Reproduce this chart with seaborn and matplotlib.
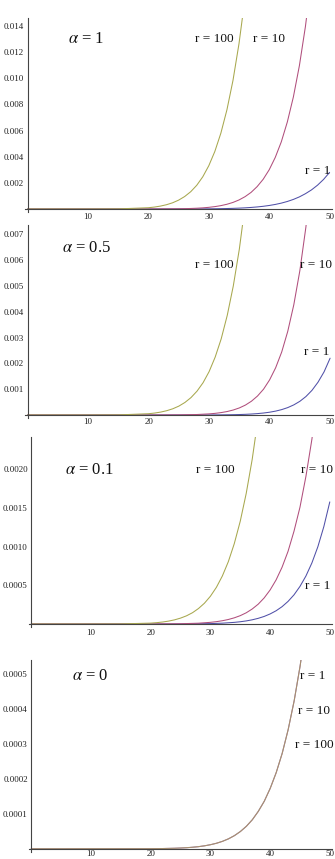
import numpy as np
import pandas as pd
import matplotlib
matplotlib.use("Agg")
import matplotlib.pyplot as plt
import seaborn as sns
from matplotlib.ticker import MultipleLocator, FixedLocator, FuncFormatter

# values, one list per curve
# alpha = 1
a1_x_r1 = [0, 20, 25, 30, 31, 32, 33, 34, 35, 36, 37, 38, 39, 40, 41, 42, 43, 44, 45, 46, 47, 48, 49, 50]
a1_y_r1 = [0, 0.0000002, 0.0000019, 0.0000131, 0.0000185, 0.0000258, 0.0000357, 0.0000488, 0.0000662,
           0.000089, 0.000119, 0.000157, 0.000206, 0.000269, 0.000348, 0.000449, 0.000575, 0.000732,
           0.000926, 0.00117, 0.00146, 0.00182, 0.00226, 0.0028]
a1_x_r10 = [0, 15, 20, 25, 26, 27, 28, 29, 30, 31, 32, 33, 34, 35, 36, 37, 38, 39, 40, 41, 42, 43, 44, 45, 46, 47]
a1_y_r10 = [0, 0.0000001, 0.0000015, 0.0000171, 0.0000263, 0.0000398, 0.0000593, 0.0000873, 0.000127,
            0.000182, 0.000258, 0.000362, 0.000502, 0.000691, 0.000942, 0.00127, 0.00171, 0.00227,
            0.00300, 0.00394, 0.00513, 0.00665, 0.00856, 0.01096, 0.01396, 0.01769]
a1_x_r100 = [0, 10, 15, 20, 21, 22, 23, 24, 25, 26, 27, 28, 29, 30, 31, 32, 33, 34, 35, 36, 37]
a1_y_r100 = [0, 0.0000002, 0.000008, 0.000097, 0.000148, 0.000223, 0.000328, 0.000474, 0.000677,
             0.000952, 0.00132, 0.00181, 0.00246, 0.00331, 0.00440, 0.00580, 0.00758, 0.00982,
             0.01264, 0.01615, 0.02050]

# alpha = 0.5
a05_x_r1 = [0, 25, 30, 32, 34, 35, 36, 37, 38, 39, 40, 41, 42, 43, 44, 45, 46, 47, 48, 49, 50]
a05_y_r1 = [0, 0.0000002, 0.0000022, 0.0000053, 0.0000121, 0.0000178, 0.0000261, 0.0000378, 0.0000541,
            0.0000769, 0.000108, 0.000151, 0.000209, 0.000287, 0.000392, 0.000530, 0.000714,
            0.000954, 0.00127, 0.00167, 0.0022]
a05_x_r10 = [0, 20, 25, 28, 30, 31, 32, 33, 34, 35, 36, 37, 38, 39, 40, 41, 42, 43, 44, 45, 46, 47]
a05_y_r10 = [0, 0.0000003, 0.0000048, 0.0000188, 0.0000431, 0.0000639, 0.0000935, 0.000135, 0.000194,
             0.000274, 0.000384, 0.000534, 0.000735, 0.00100, 0.00136, 0.00183, 0.00244, 0.00324,
             0.00427, 0.00559, 0.00728, 0.00942]
a05_x_r100 = [0, 10, 15, 20, 21, 22, 23, 24, 25, 26, 27, 28, 29, 30, 31, 32, 33, 34, 35, 36, 37]
a05_y_r100 = [0, 0.0000001, 0.000004, 0.0000495, 0.0000756, 0.000113, 0.000167, 0.000241, 0.000344,
              0.000485, 0.000673, 0.000923, 0.00125, 0.00168, 0.00224, 0.00295, 0.00386, 0.00500,
              0.00643, 0.00822, 0.01043]

# alpha = 0.1
a01_x_r1 = [0, 25, 30, 32, 34, 35, 36, 37, 38, 39, 40, 41, 42, 43, 44, 45, 46, 47, 48, 49, 50]
a01_y_r1 = [0, 0.0000007, 0.0000052, 0.0000107, 0.0000210, 0.0000291, 0.0000399, 0.0000542, 0.0000731,
            0.0000977, 0.000130, 0.000171, 0.000224, 0.000292, 0.000377, 0.000486, 0.000621,
            0.000790, 0.00100, 0.00126, 0.00158]
a01_x_r10 = [0, 20, 25, 28, 30, 31, 32, 33, 34, 35, 36, 37, 38, 39, 40, 41, 42, 43, 44, 45, 46, 47, 48]
a01_y_r10 = [0, 0.0000003, 0.0000032, 0.0000104, 0.0000214, 0.0000302, 0.0000422, 0.0000583, 0.0000798,
             0.000108, 0.000145, 0.000194, 0.000256, 0.000337, 0.000440, 0.000570, 0.000734,
             0.000939, 0.00120, 0.00151, 0.00191, 0.00239, 0.00298]
a01_x_r100 = [0, 10, 15, 20, 21, 22, 23, 24, 25, 26, 27, 28, 29, 30, 31, 32, 33, 34, 35, 36, 37, 38]
a01_y_r100 = [0, 0.00000003, 0.000001, 0.0000114, 0.0000173, 0.0000257, 0.0000375, 0.0000538, 0.0000762,
              0.000106, 0.000146, 0.000200, 0.000269, 0.000359, 0.000474, 0.000621, 0.000806,
              0.00104, 0.00133, 0.00169, 0.00213, 0.00267]

# alpha = 0: the three curves lie on top of each other
a0_x = [0, 20, 22, 24, 25, 26, 27, 28, 29, 30, 31, 32, 33, 34, 35, 36, 37, 38, 39, 40, 41, 42, 43, 44, 45, 46]
a0_y = [0, 0.00000026, 0.00000063, 0.0000014, 0.0000021, 0.0000030, 0.0000043, 0.0000060, 0.0000084,
        0.0000116, 0.0000157, 0.0000212, 0.0000283, 0.0000375, 0.0000493, 0.0000642, 0.0000830,
        0.000107, 0.000136, 0.000173, 0.000218, 0.000273, 0.000341, 0.000423, 0.000523, 0.000643]

r_names = ["r = 1", "r = 10", "r = 100"]
colors = {"r = 1": "#5050a8", "r = 10": "#b04e7c", "r = 100": "#a8a84e"}

panels = [
    {"title": r"$\alpha$ = 1",
     "curves": [(a1_x_r1, a1_y_r1), (a1_x_r10, a1_y_r10), (a1_x_r100, a1_y_r100)],
     "ymax": 0.0146, "major": 0.002, "minor": 0.0004, "fmt": "{:.3f}",
     "box": (27.6, 6.04, 209, 18), "xpad": 3, "alpha": 1.0,
     "title_xy": (9.7, 0.0130),
     "label_xy": [(48.0, 0.0029), (39.9, 0.0130), (30.9, 0.0130)]},
    {"title": r"$\alpha$ = 0.5",
     "curves": [(a05_x_r1, a05_y_r1), (a05_x_r10, a05_y_r10), (a05_x_r100, a05_y_r100)],
     "ymax": 0.00736, "major": 0.001, "minor": 0.0002, "fmt": "{:.3f}",
     "box": (27.6, 6.05, 415, 225), "xpad": 2.5, "alpha": 1.0,
     "title_xy": (9.8, 0.00647),
     "label_xy": [(47.8, 0.00244), (47.75, 0.00581), (30.9, 0.00581)]},
    {"title": r"$\alpha$ = 0.1",
     "curves": [(a01_x_r1, a01_y_r1), (a01_x_r10, a01_y_r10), (a01_x_r100, a01_y_r100)],
     "ymax": 0.00242, "major": 0.0005, "minor": 0.0001, "fmt": "{:.4f}",
     "box": (31.3, 5.97, 624, 437), "xpad": 3.5, "alpha": 1.0,
     "title_xy": (9.8, 0.00199),
     "label_xy": [(47.9, 0.000492), (47.9, 0.00199), (30.9, 0.00199)]},
    {"title": r"$\alpha$ = 0",
     "curves": [(a0_x, a0_y), (a0_x, a0_y), (a0_x, a0_y)],
     "ymax": 0.00054, "major": 0.0001, "minor": 0.00002, "fmt": "{:.4f}",
     "box": (31.25, 5.975, 848.75, 660), "xpad": 1.2, "alpha": 0.6,
     "title_xy": (9.9, 0.000494),
     "label_xy": [(47.1, 0.000494), (47.4, 0.000394), (47.4, 0.000297)]},
]

sns.set_theme(style="white")
plt.rcParams["font.family"] = ["Liberation Serif", "DejaVu Serif"]
plt.rcParams["mathtext.fontset"] = "stix"

W, H = 335, 859
fig = plt.figure(figsize=(W / 100, H / 100), dpi=100)

for p in panels:
    x0, ppu, y0, ytop = p["box"]
    ymax = p["ymax"]
    ybot = -0.015 * ymax
    left_px = x0 - 0.4 * ppu
    width_px = 50.8 * ppu
    bottom_px = y0 + 0.015 * (y0 - ytop)
    ax = fig.add_axes([left_px / W, (H - bottom_px) / H, width_px / W, (bottom_px - ytop) / H])

    frames = []
    for name, (xs, ys) in zip(r_names, p["curves"]):
        frames.append(pd.DataFrame({"x": xs, "y": ys, "r": name}))
    df = pd.concat(frames, ignore_index=True)
    sns.lineplot(data=df, x="x", y="y", hue="r", hue_order=r_names, palette=colors,
                 estimator=None, legend=False, linewidth=0.75, alpha=p["alpha"], ax=ax)

    ax.set_xlim(-0.4, 50.4)
    ax.set_ylim(ybot, ymax)
    ax.set_xlabel("")
    ax.set_ylabel("")

    for side in ["top", "right"]:
        ax.spines[side].set_visible(False)
    ax.spines["left"].set_position(("data", 0))
    ax.spines["bottom"].set_position(("data", 0))
    for side in ["left", "bottom"]:
        ax.spines[side].set_color("#444444")
        ax.spines[side].set_linewidth(0.8)

    ax.xaxis.set_major_locator(FixedLocator([10, 20, 30, 40, 50]))
    ax.xaxis.set_minor_locator(MultipleLocator(2))
    ax.yaxis.set_major_locator(MultipleLocator(p["major"]))
    ax.yaxis.set_minor_locator(MultipleLocator(p["minor"]))
    fmt = p["fmt"]
    ax.yaxis.set_major_formatter(FuncFormatter(lambda v, pos, f=fmt: "" if abs(v) < 1e-12 else f.format(v)))
    ax.tick_params(which="both", direction="in", colors="#444444", width=0.6,
                   labelsize=6.5, labelcolor="#222222")
    ax.tick_params(which="major", length=2.6)
    ax.tick_params(which="minor", length=1.4)
    ax.tick_params(axis="x", pad=p["xpad"])
    ax.tick_params(axis="y", pad=2.5)

    ax.text(*p["title_xy"], p["title"], ha="center", va="center", fontsize=12, color="#111111")
    for name, (tx, ty) in zip(r_names, p["label_xy"]):
        ax.text(tx, ty, name, ha="center", va="center", fontsize=9.5, color="#111111")

fig.savefig("out.png", dpi=100)
